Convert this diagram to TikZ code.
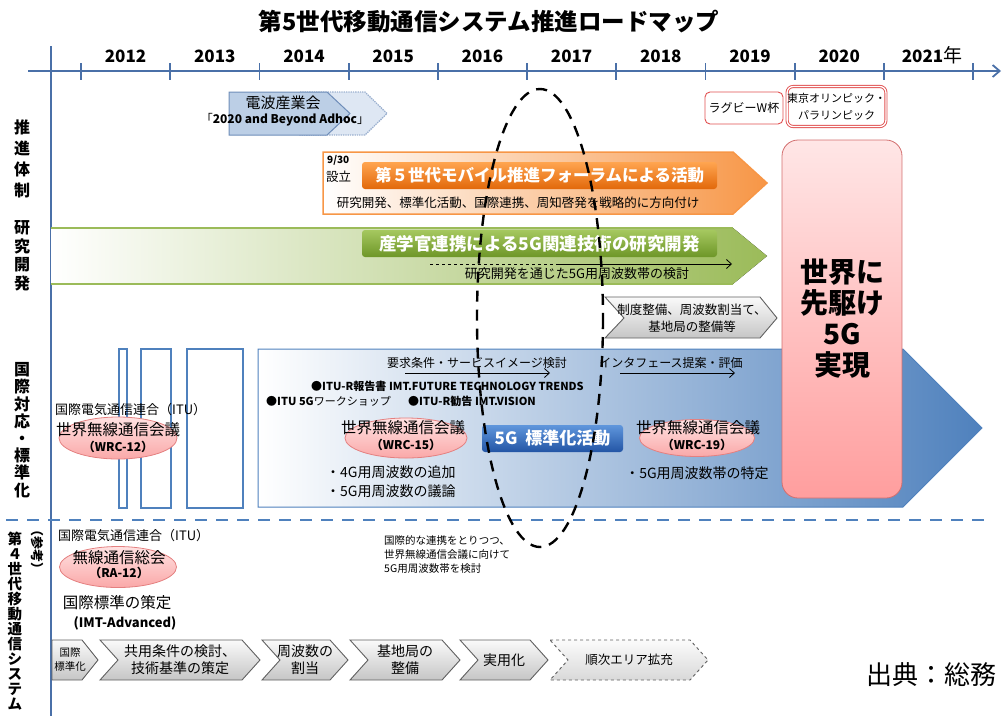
\documentclass[tikz,border=0pt]{standalone}
\usepackage{fontspec}
\setmainfont{Noto Sans CJK JP}
\usetikzlibrary{arrows.meta,shapes.geometric}
\newcommand{\jfs}[1]{\fontsize{#1}{#1}\selectfont}
\definecolor{axisblue}{RGB}{74,112,168}
\definecolor{sepblue}{RGB}{79,129,189}
\definecolor{bandgreen}{RGB}{155,187,89}
\definecolor{bandorange}{RGB}{247,150,70}
\definecolor{pinktop}{RGB}{255,226,226}
\definecolor{pinkbot}{RGB}{250,168,168}
\definecolor{ellline}{RGB}{228,128,128}
\definecolor{redline}{RGB}{225,80,80}
\definecolor{radiofill}{RGB}{188,207,230}
\definecolor{radiolight}{RGB}{222,231,243}
\tikzset{>={Straight Barb[length=5pt,width=9pt]},
  axisline/.style={axisblue, line width=1.8pt},
  yearlbl/.style={font=\bfseries\jfs{17}, inner sep=0},
  sidelbl/.style={align=center, inner sep=0},
  plain/.style={inner sep=0},
  btn/.style={rounded corners=3pt, text=white, font=\bfseries\jfs{16.5}, inner sep=0},
  pinkell/.style={ellipse, draw=ellline, line width=0.8pt, top color=pinktop, bottom color=pinkbot, inner sep=0},
  chev/.style={draw=gray!75!black, line width=0.9pt, top color=gray!4, bottom color=gray!45},
  chevtxt/.style={align=center, font=\fontsize{14}{17}\selectfont, inner sep=0},
  bluebox/.style={draw=sepblue, line width=1.5pt, fill=white},
  thinarrow/.style={->, line width=0.8pt}
}
\begin{document}
\begin{tikzpicture}[x=1pt,y=-1pt]
    \useasboundingbox (0,0) rectangle (1003,716);
    \node[plain, font=\bfseries\jfs{23.5}] (title) at (489,22) {第5世代移動通信システム推進ロードマップ};
    % time axis
    \draw[axisline, -{Straight Barb[length=7pt,width=12pt]}] (28,71) -- (1001,71);
    \draw[axisline] (51,46) -- (51,716);
    \foreach \i in {0,...,10}
    \draw[axisline] ({81+89.2*\i},63) -- ({81+89.2*\i},80);
    \foreach \yr [count=\i from 0] in {2012,...,2020}
    \node[yearlbl] (y\yr) at ({125.6+89.2*\i},56) {\yr};
    \node[yearlbl] (y2021) at (932,55) {2021{\mdseries\jfs{19}年}};
    % row titles
    \node[sidelbl, font=\bfseries\fontsize{16}{21}\selectfont] (suishin) at (22,159) {推\\進\\体\\制};
    \node[sidelbl, font=\bfseries\fontsize{16}{18.5}\selectfont] (kenkyu) at (22,256) {研\\究\\開\\発};
    \node[sidelbl, font=\bfseries\fontsize{16}{17.2}\selectfont] (kokusai) at (22,430) {国\\際\\対\\応\\・\\標\\準\\化};
    \node[sidelbl, font=\bfseries\fontsize{14.5}{15}\selectfont] (dai4) at (15,621) {第\\４\\世\\代\\移\\動\\通\\信\\シ\\ス\\テ\\ム};
    \node[plain, font=\bfseries\jfs{13}, rotate=-90] (sanko) at (37,549) {（参考）};
    % ARIB
    \draw[densely dotted, draw=axisblue!55, line width=1.3pt, fill=radiolight] (300,92) -- (365,92) -- (387,113.5) -- (365,135) -- (300,135) -- cycle;
    \draw[draw=axisblue!80, line width=1pt, fill=radiofill] (229,92) -- (327,92) -- (350,113.5) -- (327,135) -- (229,135) -- cycle;
    \node[plain, font=\jfs{15}] (arib) at (283,103) {電波産業会};
    \node[plain, font=\jfs{12}] (adhoc) at (285,120) {「\textbf{2020 and Beyond Adhoc}」};
    % events
    \node[draw=redline, line width=0.9pt, rounded corners=5pt, fill=white, minimum width=78, minimum height=32, inner sep=0, font=\jfs{12}] (rugby) at (744,108) {ラグビーW杯};
    \node[draw=redline, double=white, double distance=1.3pt, line width=0.9pt, rounded corners=6pt, fill=white, minimum width=95, minimum height=40, inner sep=0, align=center, font=\fontsize{11}{17}\selectfont] (olympic) at (836.5,106.5) {東京オリンピック・\\パラリンピック};
    % forum
    \draw[draw=bandorange, line width=1.5pt, left color=white, right color=bandorange] (323,152) -- (733,152) -- (767,183) -- (733,214) -- (323,214) -- cycle;
    \node[btn, top color={rgb,255:red,255;green,165;blue,80}, bottom color={rgb,255:red,226;green,104;blue,10}, minimum width=355, minimum height=27] (forum) at (539.5,175.5) {第５世代モバイル推進フォーラムによる活動};
    \node[plain, font=\bfseries\jfs{10}, anchor=west] (sep30) at (327,160) {9/30};
    \node[plain, font=\jfs{12.5}, anchor=west] (setsu) at (326,177) {設立};
    \node[plain, font=\jfs{12.5}] (forumtxt) at (518,203) {研究開発、標準化活動、国際連携、周知啓発を戦略的に方向付け};
    % research band
    \fill[left color=white, middle color=bandgreen!45, right color=bandgreen] (51,228) -- (733,228) -- (767,256) -- (733,284) -- (51,284) -- cycle;
    \draw[bandgreen, line width=2pt] (51,228) -- (733,228) (51,284) -- (733,284);
    \node[btn, font=\bfseries\jfs{17.5}, top color={rgb,255:red,165;green,200;blue,95}, bottom color={rgb,255:red,110;green,150;blue,40}, minimum width=355, minimum height=27] (sangaku) at (539.5,243.5) {産学官連携による5G関連技術の研究開発};
    \coordinate (gs) at (430,264);
    \coordinate (gm) at (557,264);
    \coordinate (ge) at (732,264);
    \draw[dashed, line width=0.8pt] (gs) -- (gm);
    \draw[thinarrow] (gm) -- (ge);
    \node[plain, font=\jfs{13}] (bandtxt) at (577,274) {研究開発を通じた5G用周波数帯の検討};
    % policy chevron
    \draw[chev] (605,297) -- (760,297) -- (777,318) -- (760,338) -- (605,338) -- (624,318) -- cycle;
    \node[plain, align=center, font=\fontsize{12.5}{17}\selectfont] (seido) at (692,318) {制度整備、周波数割当て、\\基地局の整備等};
    % standardisation
    \draw[draw=sepblue, line width=1pt, left color=white, right color=sepblue] (258,349) -- (903,349) -- (982,428) -- (903,507) -- (258,507) -- cycle;
    \foreach \a/\b in {119/127,141/171,187/243}
    \draw[bluebox] (\a,349) rectangle (\b,508);
    \node[plain, font=\jfs{12}] (yokyu) at (477,363) {要求条件・サービスイメージ検討};
    \node[plain, font=\jfs{12}] (iface) at (671,363) {インタフェース提案・評価};
    \coordinate (ya) at (405,373);
    \coordinate (yb) at (550,373);
    \coordinate (ia) at (620,373);
    \coordinate (ib) at (735,373);
    \draw[thinarrow] (ya) -- (yb);
    \draw[thinarrow] (ia) -- (ib);
    \node[plain, anchor=west, font=\bfseries\jfs{11}] (report) at (311,386) {●ITU-R報告書 IMT.FUTURE TECHNOLOGY TRENDS};
    \node[plain, anchor=west, font=\jfs{11}] (workshop) at (266,401) {\textbf{●ITU 5G}ワークショップ};
    \node[plain, anchor=west, font=\bfseries\jfs{11}] (vision) at (408,401) {●ITU-R勧告 IMT.VISION};
    % WRC-12
    \node[pinkell, minimum width=118, minimum height=42] (wrc12) at (118,438) {};
    \node[plain, anchor=west, font=\jfs{13}] (itu1) at (55,410) {国際電気通信連合（ITU）};
    \node[plain, font=\jfs{15.5}] (wrcj12) at (118,430) {世界無線通信会議};
    \node[plain, font=\bfseries\jfs{12}] (wrcn12) at (118,447) {（WRC-12）};
    % WRC-15
    \node[pinkell, minimum width=122, minimum height=40] (wrc15) at (406,438) {};
    \node[plain, font=\jfs{15.5}] (wrcj15) at (403,428) {世界無線通信会議};
    \node[plain, font=\bfseries\jfs{12}] (wrcn15) at (406,445) {（WRC-15）};
    \node[plain, anchor=west, align=left, font=\fontsize{14}{19}\selectfont] (wrc15txt) at (326,482) {・4G用周波数の追加\\・5G用周波数の議論};
    % 5G standardisation
    \node[btn, font=\bfseries\jfs{17}, top color={rgb,255:red,95;green,150;blue,220}, bottom color={rgb,255:red,35;green,85;blue,165}, minimum width=141, minimum height=27] (std5g) at (552.5,438.5) {5G\ \ 標準化活動};
    % WRC-19
    \node[pinkell, minimum width=115, minimum height=37] (wrc19) at (697,438) {};
    \node[plain, font=\jfs{15.5}] (wrcj19) at (698,428) {世界無線通信会議};
    \node[plain, font=\bfseries\jfs{12}] (wrcn19) at (697,445) {（WRC-19）};
    \node[plain, font=\jfs{14}] (wrc19txt) at (697,473) {・5G用周波数帯の特定};
    % goal
    \node[draw={rgb,255:red,210;green,110;blue,110}, line width=0.8pt, rounded corners=16pt, top color={rgb,255:red,255;green,230;blue,230}, bottom color={rgb,255:red,255;green,158;blue,158}, minimum width=120, minimum height=358, inner sep=0, align=center, font=\bfseries\fontsize{28}{31}\selectfont] (goal) at (842,319) {世界に\\先駆け\\5G\\実現};
    % separator
    \draw[sepblue, line width=2.5pt, dash pattern=on 12pt off 9pt] (6,520) -- (988,520);
    % 4G reference
    \node[plain, anchor=west, font=\jfs{13}] (itu2) at (58,536) {国際電気通信連合（ITU）};
    \node[pinkell, minimum width=117, minimum height=41] (ra12) at (118,567) {};
    \node[plain, font=\jfs{15.5}] (raj) at (119,558) {無線通信総会};
    \node[plain, font=\bfseries\jfs{12}] (ran) at (119,573) {（RA-12）};
    \node[plain, font=\jfs{15.5}] (imtstd) at (117,603) {国際標準の策定};
    \node[plain, font=\bfseries\jfs{13}] (imtadv) at (125,623) {(IMT-Advanced)};
    \node[plain, anchor=north west, align=left, font=\fontsize{10.5}{14}\selectfont] (wrcnote) at (384,535) {国際的な連携をとりつつ、\\世界無線通信会議に向けて\\5G用周波数帯を検討};
    % 4G steps
    \draw[chev] (52,640) -- (82,640) -- (98,660) -- (82,680) -- (52,680) -- cycle;
    \node[chevtxt, font=\fontsize{10.5}{14}\selectfont] (c52) at (70,660) {国際\\標準化};
    \foreach \l/\r/\txt in {100/242/{共用条件の検討、\\技術基準の策定},262/330/{周波数の\\割当},350/442/{基地局の\\整備},460/530/{実用化}}{
    \draw[chev] (\l,640) -- (\r,640) -- (\r+18,660) -- (\r,680) -- (\l,680) -- (\l+18,660) -- cycle;
    \node[chevtxt] (c\l) at ({(\l+\r)/2+9},660) {\txt};
    }
    \draw[chev, dashed, top color=gray!3, bottom color=gray!30] (550,640) -- (690,640) -- (708,660) -- (690,680) -- (550,680) -- (568,660) -- cycle;
    \node[chevtxt, font=\jfs{12.5}] (c550) at (629,660) {順次エリア拡充};
    \node[plain, anchor=west, font=\jfs{26}] (source) at (866,675) {出典：総務};
    % focus oval
    \draw[line width=2.4pt, dash pattern=on 11pt off 8pt] (540,318) ellipse [x radius=63, y radius=229];
\end{tikzpicture}
\end{document}
